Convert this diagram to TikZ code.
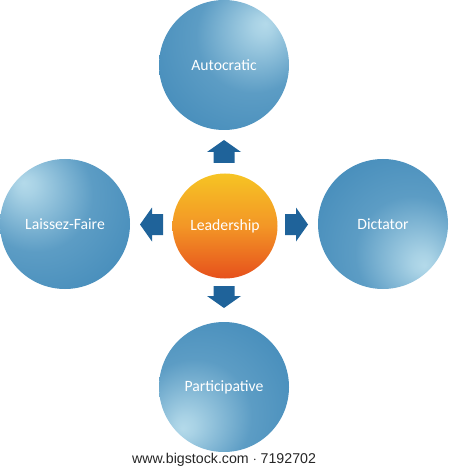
\documentclass[tikz,border=0pt]{standalone}
\usepackage{fontspec}
\setmainfont{Carlito}
\newfontfamily\footfont{Liberation Sans}
\usetikzlibrary{calc}
\definecolor{ballhl}{HTML}{B4DAEA}
\definecolor{ballmid}{HTML}{3F88B8}
\definecolor{balldark}{HTML}{1E6299}
\definecolor{arrowc}{HTML}{1F639A}
\definecolor{leadtop}{HTML}{F6C424}
\definecolor{leadmid}{HTML}{F39626}
\definecolor{leadbot}{HTML}{E6501C}
\pgfdeclareradialshading{blueball}{\pgfpoint{-16bp}{16bp}}{%
  color(0bp)=(ballhl); color(4bp)=(ballhl!90!ballmid); color(22bp)=(ballmid!75!ballhl); color(45bp)=(ballmid); color(68bp)=(balldark); color(75bp)=(balldark)}
\tikzset{
  sphere/.style={circle, minimum size=130pt, inner sep=0pt, shading=blueball,
    text=white, font=\fontsize{15.7}{17}\selectfont},
  leadball/.style={circle, minimum size=105pt, inner sep=0pt,
    top color=leadtop, bottom color=leadbot, middle color=leadmid,
    text=white, font=\fontsize{15.7}{17}\selectfont},
  blockarrow/.style={fill=arrowc, draw=none},
  footer/.style={font=\footfont\fontsize{14.2}{16}\selectfont, text=black!85}
}
\begin{document}
\begin{tikzpicture}[x=1pt,y=-1pt]
\useasboundingbox (0,0) rectangle (449,470);
\node[sphere, shading angle=-90] (auto) at (224,65) {Autocratic};
\node[sphere, shading angle=0] (laissez) at (65,224) {Laissez-Faire};
\node[sphere, shading angle=180] (dict) at (383,224) {Dictator};
\node[sphere, shading angle=90] (part) at (224,387) {Participative};
\node[leadball] (lead) at (225,226) {Leadership};
% block arrows
\fill[blockarrow] (224,140) -- (241,152) -- (234.5,152) -- (234.5,163) -- (213.5,163) -- (213.5,152) -- (207,152) -- cycle;
\fill[blockarrow] (224,308) -- (241,296) -- (234.5,296) -- (234.5,286) -- (213.5,286) -- (213.5,296) -- (207,296) -- cycle;
\fill[blockarrow] (140,224.5) -- (152,207.5) -- (152,214) -- (163,214) -- (163,235) -- (152,235) -- (152,241.5) -- cycle;
\fill[blockarrow] (308,224.5) -- (296,207.5) -- (296,214) -- (285,214) -- (285,235) -- (296,235) -- (296,241.5) -- cycle;
\node[footer] (foot) at (224,460) {www.bigstock.com $\cdot$ 7192702};
\end{tikzpicture}
\end{document}
